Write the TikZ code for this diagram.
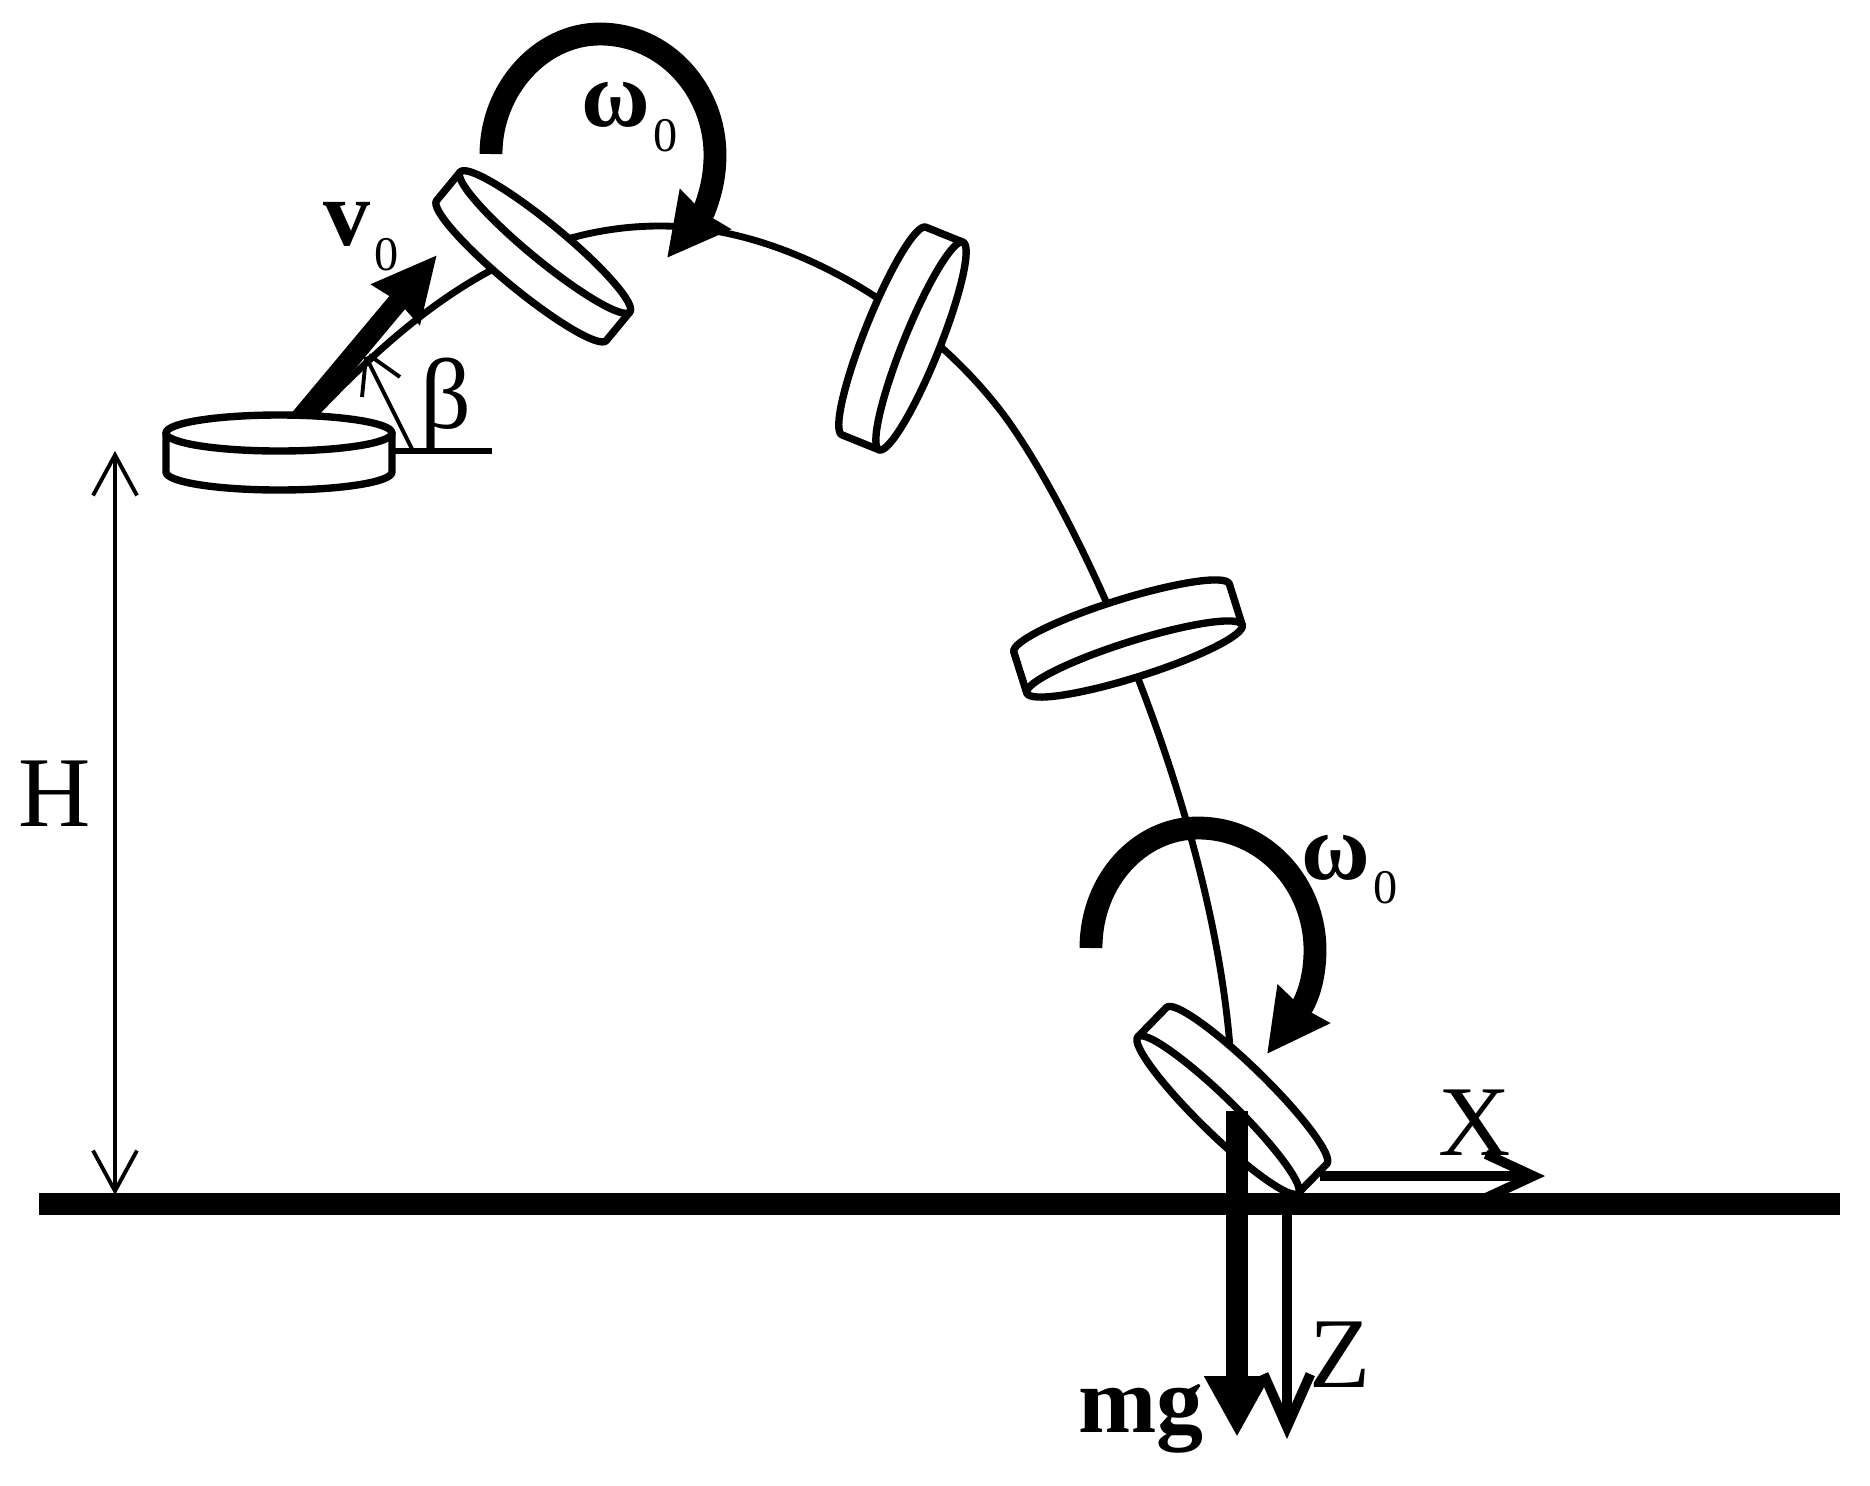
\documentclass[tikz,border=0pt]{standalone}
\usepackage{fontspec}
\setmainfont{Liberation Serif}
\usetikzlibrary{arrows.meta}
\tikzset{
  discline/.style={line width=4.2pt,line join=round,fill=white,draw=black},
  pathline/.style={line width=3.9pt,line join=round},
  spinline/.style={line width=13pt,-{Stealth[length=34.6pt,width=35pt,inset=1.5pt]}},
  axisline/.style={line width=5.6pt,line join=round},
  thinline/.style={line width=2.2pt},
  label/.style={inner sep=0pt,anchor=base},
  bigtext/.style={label,font=\fontsize{57}{57}\selectfont},
  boldtext/.style={label,font=\fontsize{53.5}{53.5}\selectfont\bfseries},
  subtext/.style={label,font=\fontsize{27.5}{27.5}\selectfont}
}
\newcommand{\disc}[6]{%
  % centre x, centre y, angle, half length, thickness, end angle of the rim sweep
  \begin{scope}[shift={(#1,#2)},rotate=#3]
    \draw[discline] (-#4,0) -- (-#4,#5) arc[start angle=180,end angle=#6,x radius=#4,y radius=18] -- (#4,0) -- cycle;
    \draw[discline] (0,0) ellipse[x radius=#4,y radius=18];
  \end{scope}}
\begin{document}
\begin{tikzpicture}[x=0.02cm,y=-0.02cm]
\useasboundingbox (0,0) rectangle (1870,1485);

% named end points
\coordinate (gL) at (39,1204);
\coordinate (gR) at (1840,1204);
\coordinate (hT) at (115,451);
\coordinate (hB) at (115,1195);
\coordinate (vS) at (299,420);
\coordinate (vT) at (437,255);
\coordinate (bA) at (392,451);
\coordinate (bB) at (492,451);
\coordinate (aS) at (412,449);
\coordinate (aT) at (366,357);
\coordinate (aL) at (362,397);
\coordinate (aR) at (400,377);
\coordinate (aU) at (369,355);
\coordinate (xS) at (1320,1176);
\coordinate (xT) at (1545,1176);
\coordinate (zS) at (1287,1204);
\coordinate (zT) at (1287,1439);
\coordinate (mS) at (1237,1111);
\coordinate (mT) at (1237,1437);

% trajectory
\draw[pathline] (317,412) .. controls (400,325) and (510,226) .. (660,226)
  .. controls (790,226) and (925,313) .. (1000,410)
  .. controls (1075,507) and (1210,800) .. (1230,1047);

% angle beta
\draw[thinline] (aS) -- (aT);
\draw[thinline] (aL) -- (aT);
\draw[thinline] (aR) -- (aU);
\draw[pathline] (bA) -- (bB);

% initial velocity
\draw[line width=11.6pt,-{Stealth[length=36pt,width=34pt,inset=1.5pt]}] (vS) -- (vT);

% discs
\disc{279}{433}{0}{113}{39}{0}
\disc{545}{242}{-39.5}{110}{37}{0}
\disc{921}{346}{68}{112}{-40}{360}
\disc{1134.5}{659}{17.5}{113}{-43}{360}
\disc{1218}{1115}{-44.3}{112}{-41}{360}

% spin arrows
\draw[spinline] (491,154) .. controls (491,90) and (540,34) .. (600,34) .. controls (665,34) and (715,90) .. (715,155) .. controls (715,175) and (711,193) .. (704,211) -- (667,258);
\draw[spinline] (1091,948) .. controls (1091,880) and (1140,828) .. (1198,828) .. controls (1265,828) and (1315,885) .. (1315,950) .. controls (1315,970) and (1311,990) .. (1303,1005) -- (1267,1054);

% height
\draw[thinline,{Straight Barb[length=23pt,width=25pt]}-{Straight Barb[length=23pt,width=25pt]}] (hT) -- (hB);

% axes
\draw[axisline,-{Straight Barb[length=27pt,width=25pt]}] (xS) -- (xT);
\draw[axisline,-{Straight Barb[length=30pt,width=26.6pt]}] (zS) -- (zT);

% ground
\draw[line width=12.4pt] (gL) -- (gR);

% weight
\draw[line width=12.4pt,-{Triangle[length=34.6pt,width=35pt]}] (mS) -- (mT);

% labels
\node[bigtext] (tH) at (55,826) {H};
\node[bigtext] (tX) at (1475,1155) {X};
\node[bigtext] (tZ) at (1340,1387) {Z};
\node[bigtext] (tB) at (446,428) {β};
\node[boldtext] (tM) at (1141,1432) {mg};
\node[boldtext] (tV) at (347,245) {v};
\node[subtext] (tV0) at (387,270) {0};
\node[boldtext] (tW) at (616,126) {ω};
\node[subtext] (tW0) at (665.5,151) {0};
\node[boldtext] (tWb) at (1336,879) {ω};
\node[subtext] (tWb0) at (1386,903) {0};
\end{tikzpicture}
\end{document}
